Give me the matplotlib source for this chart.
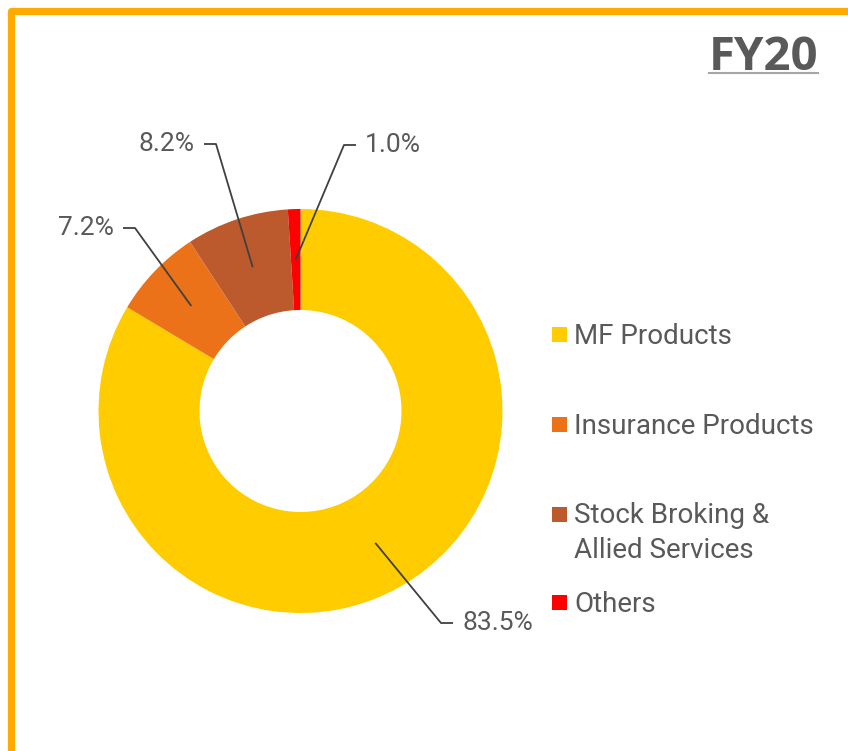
import numpy as np
import matplotlib.pyplot as plt
from matplotlib.patches import Rectangle

# data
categories = ['MF Products', 'Insurance Products', 'Stock Broking &\nAllied Services', 'Others']
shares = [83.5, 7.2, 8.2, 1.0]
pct_labels = ['83.5%', '7.2%', '8.2%', '1.0%']
colors = ['#FFCC00', '#EB7219', '#BC5A2E', '#FF0000']
title = 'FY20'

W, H = 848, 751
fig = plt.figure(figsize=(W / 100, H / 100), dpi=100)
ax = fig.add_axes([0, 0, 1, 1])

cx, cy, R = 300.5, H - 411, 202
wedges, _ = ax.pie(shares, colors=colors, startangle=90, counterclock=False,
                   center=(cx, cy), radius=R,
                   wedgeprops=dict(width=R / 2, edgecolor='none'))
ax.set_xlim(0, W)
ax.set_ylim(0, H)
ax.set_aspect('equal')
ax.axis('off')

txt_color = '#595959'
font = 'Roboto'

# percentage labels with elbow leader lines (text anchor point, side)
label_pos = [(462, 623, 'left'), (114, 228, 'right'), (195, 144, 'right'), (365, 145, 'left')]
for w, lab, (tx, ty, side) in zip(wedges, pct_labels, label_pos):
    ang = np.deg2rad((w.theta1 + w.theta2) / 2)
    ax_, ay_ = cx + 0.75 * R * np.cos(ang), cy + 0.75 * R * np.sin(ang)
    ty = H - ty
    if side == 'left':
        xs = [ax_, tx - 21, tx - 9]
        ha = 'left'
    else:
        xs = [ax_, tx + 21, tx + 9]
        ha = 'right'
    ax.plot(xs, [ay_, ty, ty], color='#404040', lw=1.3, solid_capstyle='butt')
    ax.text(tx, ty, lab, ha=ha, va='center', fontsize=19, color=txt_color, family=font)

# legend drawn by hand (first-line centre of each entry)
leg_y = [334, 424, 514, 602]
line_step = 34
for c, name, y in zip(colors, categories, leg_y):
    yy = H - y
    ax.add_patch(Rectangle((552, yy - 7.5), 15, 15, color=c, lw=0))
    # baseline of a multi-line text is the last line's baseline
    base = yy - 10 - line_step * name.count('\n')
    ax.text(574, base, name, ha='left', va='baseline', fontsize=20, color=txt_color,
            family=font, linespacing=1.37)

# title with underline
t = ax.text(818, H - 70, title, ha='right', va='baseline', fontsize=34, fontweight='bold',
            color=txt_color, family='Open Sans')
fig.canvas.draw()
bb = t.get_window_extent()
ax.plot([bb.x0, bb.x1], [H - 73, H - 73], color='#A6A6A6', lw=1.5)

# orange frame on top and left
ax.plot([10.5, 10.5, W], [0, H - 10.5, H - 10.5], color='#FFAA00', lw=5.2,
        solid_joinstyle='round', solid_capstyle='butt')

fig.savefig('out.png', dpi=100)
